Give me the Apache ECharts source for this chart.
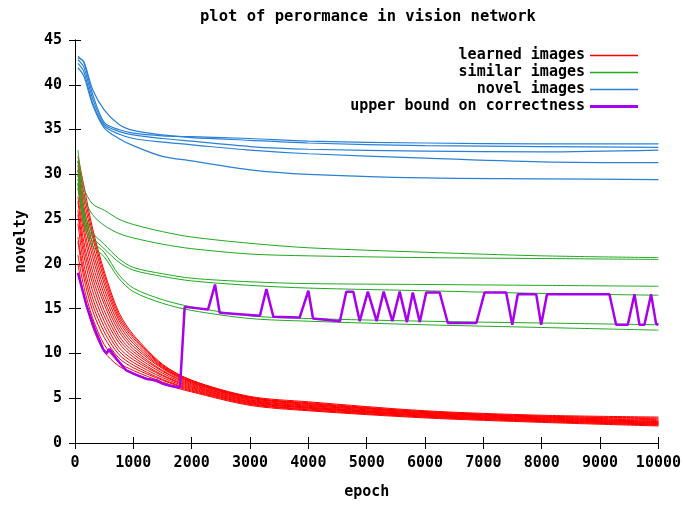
<!DOCTYPE html>
<html>
<head>
<meta charset="utf-8">
<script src="https://cdn.jsdelivr.net/npm/echarts@6/dist/echarts.min.js"></script>
<style>
  html, body { margin: 0; padding: 0; background: #fff; }
  #chart { width: 684px; height: 505px; }
</style>
</head>
<body>
<div id="chart"></div>
<script>
/* sample epochs shared by the curve series */
var epochs = [50, 150, 300, 500, 750, 1000, 1500, 2000, 3000, 4000, 6000, 8000, 10000];

/* novel images (blue) */
var novelLines = [
    [43.2, 42.5, 39.0, 35.8, 35.0, 34.6, 34.3, 34.2, 34.0, 33.7, 33.5, 33.4, 33.4],
    [43.0, 42.6, 39.5, 37.2, 35.6, 34.9, 34.4, 34.1, 33.8, 33.5, 33.2, 33.1, 33.0],
    [42.8, 42.0, 38.5, 35.6, 34.8, 34.4, 34.0, 33.7, 33.1, 32.8, 32.6, 32.5, 32.7],
    [42.4, 41.5, 38.0, 35.4, 34.5, 34.0, 33.6, 33.3, 32.7, 32.3, 31.8, 31.4, 31.3],
    [41.9, 41.0, 37.8, 35.2, 34.0, 33.2, 32.0, 31.5, 30.5, 30.0, 29.6, 29.5, 29.4]
];

/* similar images (green) */
var similarLines = [
    [32.7, 28.5, 26.7, 26.0, 25.0, 24.4, 23.6, 23.0, 22.3, 21.8, 21.3, 20.9, 20.7],
    [31.5, 27.5, 25.5, 24.3, 23.4, 22.9, 22.2, 21.7, 21.1, 20.9, 20.7, 20.6, 20.5],
    [30.5, 26.0, 23.5, 22.2, 20.6, 19.6, 18.9, 18.4, 18.0, 17.8, 17.7, 17.6, 17.5],
    [30.0, 25.5, 23.0, 21.7, 20.2, 19.3, 18.6, 18.1, 17.6, 17.3, 17.0, 16.7, 16.5],
    [29.5, 25.0, 22.5, 21.3, 18.8, 17.3, 16.0, 15.2, 14.2, 13.9, 13.6, 13.4, 13.2],
    [29.0, 24.5, 22.0, 20.8, 18.4, 16.9, 15.6, 14.8, 13.9, 13.6, 13.2, 12.9, 12.6]
];

/* learned images (red) */
var learnedLines = [
    [20.0, 16.5, 13.0, 10.2, 8.6, 7.8, 6.6, 5.7, 4.2, 3.6, 2.8, 2.3, 1.9],
    [21.0, 17.5, 14.0, 11.0, 9.0, 8.1, 6.8, 5.8, 4.3, 3.7, 2.9, 2.4, 2.0],
    [22.5, 18.5, 14.8, 11.8, 9.5, 8.4, 7.0, 5.9, 4.4, 3.7, 2.9, 2.4, 2.0],
    [23.0, 19.2, 15.5, 12.4, 9.9, 8.7, 7.1, 6.0, 4.4, 3.8, 3.0, 2.5, 2.1],
    [24.5, 20.0, 16.2, 13.0, 10.3, 9.0, 7.3, 6.1, 4.5, 3.9, 3.0, 2.5, 2.1],
    [25.5, 21.0, 17.0, 13.6, 10.7, 9.3, 7.5, 6.2, 4.6, 3.9, 3.1, 2.6, 2.2],
    [26.0, 21.8, 17.8, 14.2, 11.2, 9.6, 7.6, 6.3, 4.6, 4.0, 3.1, 2.6, 2.2],
    [27.0, 22.5, 18.5, 14.8, 11.6, 9.9, 7.8, 6.4, 4.7, 4.0, 3.2, 2.7, 2.3],
    [27.5, 23.5, 19.2, 15.5, 12.0, 10.2, 8.0, 6.5, 4.8, 4.1, 3.2, 2.7, 2.3],
    [28.5, 24.2, 20.0, 16.0, 12.5, 10.5, 8.1, 6.6, 4.8, 4.2, 3.3, 2.8, 2.4],
    [29.0, 25.0, 20.8, 16.6, 12.9, 10.8, 8.3, 6.7, 4.9, 4.2, 3.3, 2.8, 2.4],
    [30.0, 25.8, 21.5, 17.2, 13.3, 11.1, 8.4, 6.8, 5.0, 4.3, 3.4, 2.9, 2.5],
    [30.5, 26.5, 22.2, 17.8, 13.7, 11.4, 8.5, 6.8, 5.0, 4.4, 3.4, 2.9, 2.6],
    [31.0, 27.2, 23.0, 18.3, 14.0, 11.7, 8.6, 6.9, 5.1, 4.4, 3.5, 3.0, 2.7],
    [31.5, 28.0, 23.5, 18.8, 14.3, 11.9, 8.7, 7.0, 5.1, 4.5, 3.5, 3.0, 2.8],
    [32.0, 28.8, 24.0, 19.2, 14.6, 12.1, 8.8, 7.0, 5.2, 4.6, 3.6, 3.1, 2.9]
];

/* upper bound on correctness (purple) */
var boundEpochs = [50, 200, 340, 480, 540, 590, 710, 880, 1050, 1230, 1400, 1510, 1630, 1800,
    1880, 1910, 2280, 2400, 2480, 3170, 3280, 3400, 3850, 4000, 4080, 4540, 4650, 4770, 4880,
    5020, 5170, 5290, 5440, 5565, 5690, 5790, 5910, 6020, 6250, 6390, 6880, 7020, 7390, 7495,
    7590, 7905, 7990, 8090, 9160, 9275, 9475, 9590, 9675, 9760, 9875, 9960, 10000];
var boundValues = [19.0, 15.3, 12.7, 10.5, 10.0, 10.5, 9.4, 8.1, 7.6, 7.15, 7.0, 6.6, 6.4, 6.2,
    15.2, 15.1, 14.9, 17.7, 14.55, 14.2, 17.2, 14.1, 14.0, 17.0, 13.9, 13.6, 16.9, 16.9, 13.6,
    16.9, 13.6, 16.9, 13.6, 16.9, 13.5, 16.8, 13.5, 16.8, 16.8, 13.4, 13.4, 16.8, 16.8, 13.2,
    16.6, 16.6, 13.2, 16.6, 16.6, 13.2, 13.2, 16.6, 13.2, 13.2, 16.6, 13.3, 13.2];

var FONT = '"DejaVu Sans Mono", "Liberation Mono", monospace';
var RED = '#ff0000', GREEN = '#1faa1f', BLUE = '#2a80d8', PURPLE = '#a800ee';

function pairs(xs, ys) {
    var out = [];
    for (var i = 0; i < xs.length; i++) {
        out.push([xs[i], ys[i]]);
    }
    return out;
}

function curve(name, vals, color, width) {
    return {
        name: name,
        type: 'line',
        data: pairs(epochs, vals),
        showSymbol: false,
        symbol: 'none',
        smooth: 0.3,
        lineStyle: { color: color, width: width },
        itemStyle: { color: color },
        silent: true
    };
}

var series = [];
for (var i = 0; i < learnedLines.length; i++) {
    series.push(curve('learned images', learnedLines[i], RED, 1));
}
for (var j = 0; j < similarLines.length; j++) {
    series.push(curve('similar images', similarLines[j], GREEN, 1));
}
for (var k = 0; k < novelLines.length; k++) {
    series.push(curve('novel images', novelLines[k], BLUE, 1.2));
}
series.push({
    name: 'upper bound on correctness',
    type: 'line',
    data: pairs(boundEpochs, boundValues),
    showSymbol: false,
    symbol: 'none',
    lineStyle: { color: PURPLE, width: 2.5 },
    itemStyle: { color: PURPLE },
    silent: true
});

/* one legend per row so the line samples share a right edge */
var legendNames = ['learned images', 'similar images', 'novel images', 'upper bound on correctness'];
var legendColors = [RED, GREEN, BLUE, PURPLE];
var legends = [];
for (var n = 0; n < legendNames.length; n++) {
    legends.push({
        data: [{ name: legendNames[n], icon: 'rect', itemStyle: { color: legendColors[n] } }],
        right: 41,
        top: 43 + n * 17,
        align: 'right',
        itemWidth: 48,
        itemHeight: n === 3 ? 3 : 1.3,
        selectedMode: false,
        textStyle: { fontFamily: FONT, fontWeight: 'bold', fontSize: 15, color: '#000' }
    });
}

var tickLabel = { fontFamily: FONT, fontWeight: 'bold', fontSize: 15, color: '#000' };
function plain(v) { return String(v); }

var myChart = echarts.init(document.getElementById('chart'));
var option = {
    animation: false,
    backgroundColor: '#fff',
    title: {
        text: 'plot of perormance in vision network',
        left: 195,
        top: 4,
        textStyle: { fontFamily: FONT, fontWeight: 'bold', fontSize: 15.5, color: '#000' }
    },
    legend: legends,
    grid: { left: 75, right: 25, top: 40, bottom: 56, containLabel: false },
    xAxis: [
        {
            type: 'value', min: 0, max: 10000, interval: 1000,
            name: 'epoch', nameLocation: 'middle', nameGap: 42,
            nameTextStyle: tickLabel,
            axisLine: { lineStyle: { color: '#000', width: 1 } },
            axisTick: { inside: true, length: 6, lineStyle: { color: '#000' } },
            axisLabel: Object.assign({ margin: 13, formatter: plain }, tickLabel),
            splitLine: { show: false }
        },
        {
            type: 'value', min: 0, max: 10000, interval: 1000, position: 'top',
            axisLine: { lineStyle: { color: '#000', width: 1 } },
            axisTick: { inside: true, length: 6, lineStyle: { color: '#000' } },
            axisLabel: { show: false },
            splitLine: { show: false }
        }
    ],
    yAxis: [
        {
            type: 'value', min: 0, max: 45, interval: 5,
            name: 'novelty', nameLocation: 'middle', nameGap: 46, nameRotate: 90,
            nameTextStyle: tickLabel,
            axisLine: { show: true, lineStyle: { color: '#000', width: 1 } },
            axisTick: { show: true, inside: true, length: 6, lineStyle: { color: '#000' } },
            axisLabel: Object.assign({ margin: 13, formatter: plain }, tickLabel),
            splitLine: { show: false }
        },
        {
            type: 'value', min: 0, max: 45, interval: 5, position: 'right',
            axisLine: { show: true, lineStyle: { color: '#000', width: 1 } },
            axisTick: { show: true, inside: true, length: 6, lineStyle: { color: '#000' } },
            axisLabel: { show: false },
            splitLine: { show: false }
        }
    ],
    series: series
};
myChart.setOption(option);
</script>
</body>
</html>
